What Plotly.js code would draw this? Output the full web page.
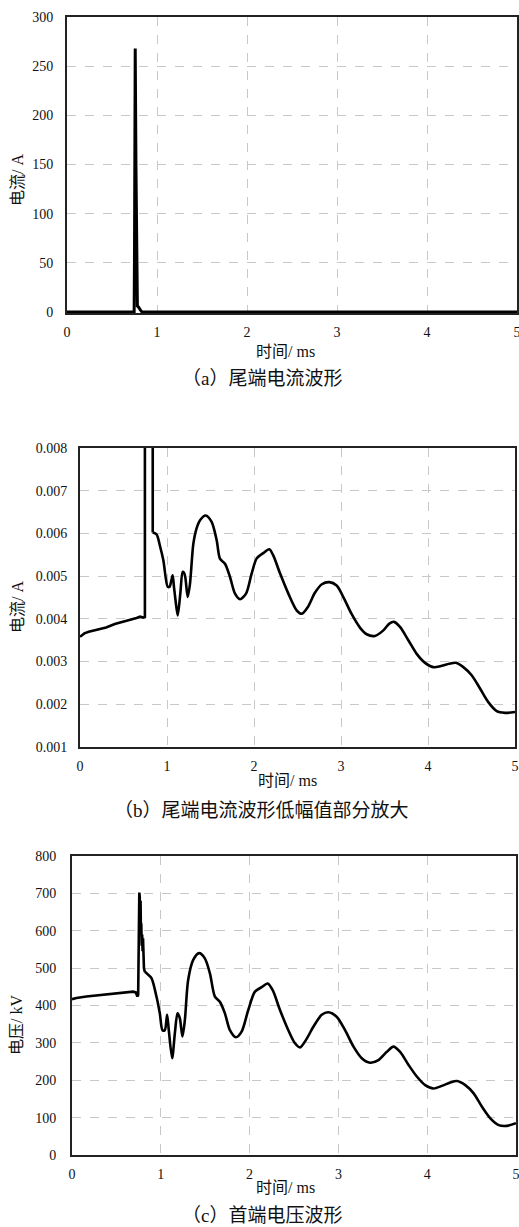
<!DOCTYPE html>
<html>
<head>
<meta charset="utf-8">
<script src="https://cdn.plot.ly/plotly-3.0.1.min.js"></script>
<style>
  html, body { margin: 0; padding: 0; background: #fff; }
  #chart { width: 519px; height: 1227px; }
</style>
</head>
<body>
<div id="chart"></div>
<script>
// ---- Data: tail-end current (A), time in ms ----
const curT = [0, 0.05, 0.1, 0.2, 0.3, 0.4, 0.5, 0.6, 0.65, 0.69, 0.73, 0.746,
  0.75, 0.758, 0.766, 0.774, 0.782, 0.795, 0.81, 0.825, 0.834,
  0.836, 0.88, 0.92, 0.958, 1.008, 1.03, 1.05, 1.065, 1.08, 1.1, 1.123, 1.153, 1.18, 1.195, 1.21,
  1.238, 1.264, 1.303, 1.34, 1.38, 1.445, 1.513, 1.571, 1.609, 1.667, 1.724, 1.782,
  1.839, 1.908, 1.973, 2.03, 2.107, 2.176, 2.22, 2.30, 2.395, 2.49, 2.55, 2.62,
  2.70, 2.78, 2.866, 2.95, 3.027, 3.12, 3.22, 3.295, 3.39, 3.487, 3.556, 3.609,
  3.678, 3.774, 3.87, 3.966, 4.06, 4.157, 4.245, 4.322, 4.406, 4.502, 4.598,
  4.693, 4.79, 4.885, 5.0];
const curA = [0.00358, 0.00366, 0.0037, 0.00375, 0.0038, 0.00388, 0.00393, 0.00398, 0.00402, 0.00405, 0.00403, 0.00404,
  60, 268, 150, 20, 6, 5, 2.5, 0.8, 0.2,
  0.00602, 0.00598, 0.0057, 0.00537, 0.00475, 0.00475, 0.0049, 0.00502, 0.00475, 0.0044, 0.00408, 0.00459, 0.0051, 0.00508, 0.00498,
  0.00451, 0.00482, 0.00576, 0.00612, 0.00631, 0.00642, 0.00627, 0.00584, 0.00541, 0.00529, 0.00498, 0.00459,
  0.00446, 0.00459, 0.00506, 0.00541, 0.00554, 0.00563, 0.00549, 0.00506, 0.00459, 0.0042, 0.00412, 0.00428,
  0.00461, 0.00481, 0.00486, 0.00478, 0.00451, 0.00412, 0.00379, 0.00364, 0.0036, 0.00373, 0.00389, 0.00393,
  0.00381, 0.0035, 0.00318, 0.00297, 0.00287, 0.0029, 0.00295, 0.00297, 0.00287, 0.00268, 0.00237,
  0.00205, 0.00184, 0.0018, 0.00182];

// ---- Data: head-end voltage (kV), time in ms ----
const volT = [0, 0.05, 0.162, 0.312, 0.5, 0.688, 0.718, 0.737, 0.745,
  0.752, 0.758, 0.763, 0.768, 0.772, 0.776, 0.78, 0.785, 0.79, 0.795, 0.80, 0.81, 0.82,
  0.85, 0.895, 0.951, 0.989, 1.019, 1.045, 1.071, 1.09, 1.128, 1.158, 1.188, 1.214,
  1.244, 1.271, 1.308, 1.365, 1.432, 1.496, 1.553, 1.609, 1.665, 1.722, 1.778, 1.846,
  1.91, 1.985, 2.06, 2.135, 2.203, 2.26, 2.342, 2.436, 2.511, 2.568, 2.635, 2.718,
  2.812, 2.887, 2.98, 3.075, 3.17, 3.263, 3.357, 3.451, 3.545, 3.62, 3.695, 3.79,
  3.883, 3.977, 4.071, 4.165, 4.259, 4.335, 4.429, 4.523, 4.617, 4.711, 4.805, 4.898, 5.0];
const volKV = [417, 420, 424, 428, 432, 437, 435, 424, 428,
  520, 702, 690, 640, 680, 600, 620, 560, 590, 545, 580, 500, 490,
  484, 473, 424, 379, 334, 334, 375, 334, 259, 325, 379, 366,
  317, 361, 468, 522, 540, 526, 486, 424, 410, 379, 334, 315,
  330, 388, 437, 449, 459, 441, 388, 334, 299, 288, 308, 343,
  375, 382, 370, 334, 290, 259, 247, 254, 276, 290, 276, 241,
  210, 187, 178, 185, 194, 198, 187, 165, 129, 98, 80, 78, 85];

// ---- Tick values ----
const xTicks = [0, 1, 2, 3, 4, 5];
const yTicksA = [0, 50, 100, 150, 200, 250, 300];
const yTicksB = [0.001, 0.002, 0.003, 0.004, 0.005, 0.006, 0.007, 0.008];
const yTicksC = [0, 100, 200, 300, 400, 500, 600, 700, 800];

const W = 519, H = 1227;
const px = v => v / W;
const py = v => 1 - v / H;

const NUMFONT = 'Liberation Serif, serif';
const FONT = 'Liberation Serif, Noto Sans CJK SC, serif';

function xAxis(l, r, anchor) {
  return {
    domain: [px(l), px(r)], anchor: anchor, range: [0, 5],
    tickvals: xTicks, ticktext: xTicks.map(String),
    showline: true, mirror: true, linecolor: '#222', linewidth: 2,
    showgrid: true, gridcolor: '#c8c8c8', griddash: 'dash', gridwidth: 1,
    zeroline: false, ticks: '', ticklabelstandoff: 5, ticklabeloverflow: 'allow',
    tickfont: { family: NUMFONT, size: 14, color: '#111' }, fixedrange: true
  };
}
function yAxis(t, b, anchor, range, ticks, fmt, standoff) {
  return {
    domain: [py(b), py(t)], anchor: anchor, range: range,
    tickvals: ticks, ticktext: ticks.map(fmt),
    showline: true, mirror: true, linecolor: '#222', linewidth: 2,
    showgrid: true, gridcolor: '#c8c8c8', griddash: 'dash', gridwidth: 1,
    zeroline: false, ticks: '', ticklabelstandoff: standoff, ticklabeloverflow: 'allow',
    tickfont: { family: NUMFONT, size: 14, color: '#111' }, fixedrange: true
  };
}

// split index: spike part drawn straight, smooth oscillation drawn as spline
const cSplit = curT.indexOf(0.836);
const vSplit = volT.indexOf(0.82);

function seg(xs, ys, xa, ya, w, shape) {
  return { x: xs, y: ys, xaxis: xa, yaxis: ya, type: 'scatter', mode: 'lines',
    line: { color: '#000', width: w, shape: shape, smoothing: 0.8 }, hoverinfo: 'skip' };
}

const traces = [
  seg(curT, curA, 'x', 'y', 3, 'linear'),
  seg(curT.slice(0, cSplit + 1), curA.slice(0, cSplit + 1), 'x2', 'y2', 2.6, 'linear'),
  seg(curT.slice(cSplit), curA.slice(cSplit), 'x2', 'y2', 2.6, 'spline'),
  seg(volT.slice(0, vSplit + 1), volKV.slice(0, vSplit + 1), 'x3', 'y3', 2.6, 'linear'),
  seg(volT.slice(vSplit), volKV.slice(vSplit), 'x3', 'y3', 2.6, 'spline')
];

function ann(text, x, y, size, angle) {
  return { text: text, xref: 'paper', yref: 'paper', x: px(x), y: py(y),
    xanchor: 'center', yanchor: 'middle', showarrow: false, textangle: angle || 0,
    font: { family: FONT, size: size, color: '#111' } };
}

const layout = {
  width: W, height: H, margin: { l: 0, r: 0, t: 0, b: 0 },
  paper_bgcolor: '#fff', plot_bgcolor: '#fff', showlegend: false,
  font: { family: FONT },
  xaxis: xAxis(67, 517, 'y'),
  yaxis: yAxis(17, 313, 'x', [-1, 300], yTicksA, String, 9),
  xaxis2: xAxis(80, 515, 'y2'),
  yaxis2: yAxis(448, 747, 'x2', [0.001, 0.008], yTicksB, v => v.toFixed(3), 8),
  xaxis3: xAxis(72, 516, 'y3'),
  yaxis3: yAxis(856, 1155, 'x3', [0, 800], yTicksC, String, 11),
  annotations: [
    ann('时间/ ms', 285, 351, 16),
    ann('（a）尾端电流波形', 262, 379, 19),
    ann('电流/ A', 17, 180, 16, -90),
    ann('时间/ ms', 287, 780, 16),
    ann('（b）尾端电流波形低幅值部分放大', 261, 810, 19),
    ann('电流/ A', 17, 607, 16, -90),
    ann('时间/ ms', 285, 1187, 16),
    ann('（c）首端电压波形', 262, 1215, 19),
    ann('电压/ kV', 16, 1025, 16, -90)
  ]
};

Plotly.newPlot('chart', traces, layout, { staticPlot: true, displayModeBar: false });
</script>
</body>
</html>
